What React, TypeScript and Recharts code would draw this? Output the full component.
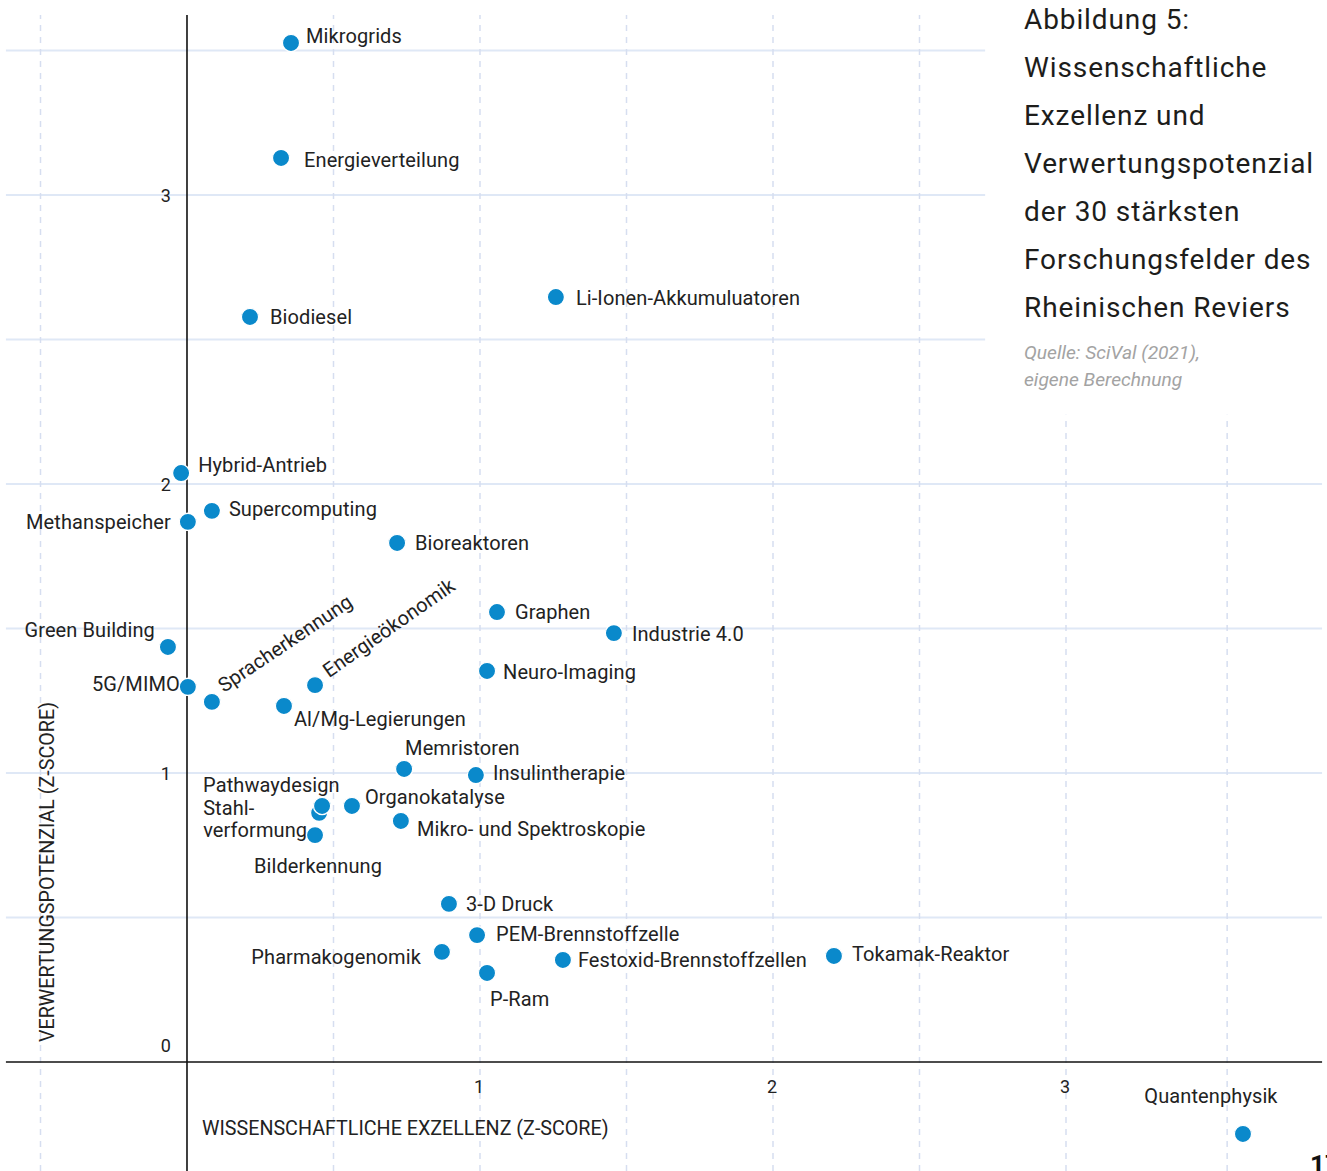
import { ScatterChart, Scatter, XAxis, YAxis, ReferenceLine } from 'recharts'

// research fields, in drawing order
const fields = [
  'Mikrogrids', 'Energieverteilung', 'Biodiesel', 'Li-Ionen-Akkumuluatoren', 'Hybrid-Antrieb',
  'Supercomputing', 'Methanspeicher', 'Bioreaktoren', 'Graphen', 'Industrie 4.0',
  'Green Building', 'Neuro-Imaging', '5G/MIMO', 'Spracherkennung', 'Energieökonomik',
  'Al/Mg-Legierungen', 'Memristoren', 'Insulintherapie', 'Stahlverformung', 'Pathwaydesign',
  'Organokatalyse', 'Bilderkennung', 'Mikro- und Spektroskopie', '3-D Druck', 'PEM-Brennstoffzelle',
  'Pharmakogenomik', 'Festoxid-Brennstoffzellen', 'P-Ram', 'Tokamak-Reaktor', 'Quantenphysik',
]
// wissenschaftliche Exzellenz (z-score)
const excellence = [
  0.355, 0.321, 0.215, 1.259, -0.02,
  0.085, 0.003, 0.717, 1.058, 1.457,
  -0.065, 1.024, 0.003, 0.085, 0.437,
  0.331, 0.741, 0.986, 0.451, 0.461,
  0.563, 0.437, 0.73, 0.894, 0.99,
  0.87, 1.283, 1.024, 2.208, 3.604,
]
// Verwertungspotenzial (z-score)
const potential = [
  3.526, 3.128, 2.578, 2.647, 2.038,
  1.907, 1.869, 1.796, 1.557, 1.484,
  1.436, 1.353, 1.298, 1.246, 1.304,
  1.232, 1.014, 0.993, 0.862, 0.886,
  0.886, 0.785, 0.834, 0.547, 0.439,
  0.381, 0.353, 0.308, 0.367, -0.249,
]

const xTicks = [1, 2, 3]
const yTicks = [0, 1, 2, 3]
const vGrid = [-0.5, 0.5, 1, 1.5, 2, 2.5, 3, 3.55]
const hGrid = [0.5, 1, 1.5, 2, 2.5, 3, 3.5]

const titleLines = [
  'Abbildung 5:', 'Wissenschaftliche', 'Exzellenz und', 'Verwertungspotenzial',
  'der 30 stärksten', 'Forschungsfelder des', 'Rheinischen Reviers',
]
const sourceLines = ['Quelle: SciVal (2021),', 'eigene Berechnung']

const X_DOMAIN = [-0.6382, 3.8908]
const Y_DOMAIN = [-0.3772, 3.6747]
const FONT = 'Roboto, sans-serif'

// where each label sits relative to its dot
type Place = { dx: number; dy: number; anchor?: 'start' | 'middle' | 'end'; rotate?: number; lines?: string[] }
const placement: Record<string, Place> = {
  'Mikrogrids': { dx: 15, dy: -7 },
  'Energieverteilung': { dx: 23, dy: 2 },
  'Biodiesel': { dx: 20, dy: 0 },
  'Li-Ionen-Akkumuluatoren': { dx: 20, dy: 1 },
  'Hybrid-Antrieb': { dx: 17, dy: -8 },
  'Supercomputing': { dx: 17, dy: -2 },
  'Methanspeicher': { dx: -17, dy: 0, anchor: 'end' },
  'Bioreaktoren': { dx: 18, dy: 0 },
  'Graphen': { dx: 18, dy: 0 },
  'Industrie 4.0': { dx: 18, dy: 1 },
  'Green Building': { dx: -13, dy: -17, anchor: 'end' },
  'Neuro-Imaging': { dx: 16, dy: 1 },
  '5G/MIMO': { dx: -8, dy: -3, anchor: 'end' },
  'Spracherkennung': { dx: 12, dy: -9, rotate: -34 },
  'Energieökonomik': { dx: 14, dy: -7, rotate: -35 },
  'Al/Mg-Legierungen': { dx: 10, dy: 13 },
  'Memristoren': { dx: 1, dy: -21 },
  'Insulintherapie': { dx: 17, dy: -2 },
  'Stahlverformung': { dx: -116, dy: -5, lines: ['Stahl-', 'verformung'] },
  'Pathwaydesign': { dx: -119, dy: -21 },
  'Organokatalyse': { dx: 13, dy: -9 },
  'Bilderkennung': { dx: 3, dy: 31, anchor: 'middle' },
  'Mikro- und Spektroskopie': { dx: 16, dy: 8 },
  '3-D Druck': { dx: 17, dy: 0 },
  'PEM-Brennstoffzelle': { dx: 19, dy: -1 },
  'Pharmakogenomik': { dx: -21, dy: 5, anchor: 'end' },
  'Festoxid-Brennstoffzellen': { dx: 15, dy: 0 },
  'P-Ram': { dx: 3, dy: 26 },
  'Tokamak-Reaktor': { dx: 18, dy: -2 },
  'Quantenphysik': { dx: -32, dy: -38, anchor: 'middle' },
}

const data = fields.map((name, i) => ({ name, x: excellence[i], y: potential[i] }))
const xTickData = xTicks.map((v) => ({ x: v, y: 0, label: String(v) }))
const yTickData = yTicks.map((v) => ({ x: 0, y: v, label: String(v) }))

const FieldDot = (props: any) => {
  const { cx, cy, payload } = props
  const p = placement[payload.name] || { dx: 16, dy: 0 }
  const tx = cx + p.dx
  const ty = cy + p.dy
  const common = { fontFamily: FONT, fontSize: 20, fill: '#222', letterSpacing: 0.1 }
  let label
  if (p.rotate) {
    label = (
      <text x={tx} y={ty} {...common} transform={`rotate(${p.rotate}, ${tx}, ${ty})`}>
        {payload.name}
      </text>
    )
  } else if (p.lines) {
    label = (
      <text {...common} textAnchor={p.anchor || 'start'} dominantBaseline="central">
        {p.lines.map((l, i) => (
          <tspan key={l} x={tx} y={ty + i * 22}>{l}</tspan>
        ))}
      </text>
    )
  } else {
    label = (
      <text x={tx} y={ty} {...common} textAnchor={p.anchor || 'start'} dominantBaseline="central">
        {payload.name}
      </text>
    )
  }
  return (
    <g>
      <circle cx={cx} cy={cy} r={8.6} fill="#0a89cb" stroke="#fff" strokeWidth={1.3} />
      {label}
    </g>
  )
}

const XTick = (props: any) => (
  <text x={props.cx - 1} y={props.cy + 25} textAnchor="middle" dominantBaseline="central"
    fontFamily={FONT} fontSize={18} fill="#222">{props.payload.label}</text>
)

const YTick = (props: any) => (
  <text x={props.cx - 16} y={props.payload.y === 0 ? props.cy - 16 : props.cy + 1} textAnchor="end"
    dominantBaseline="central" fontFamily={FONT} fontSize={18} fill="#222">{props.payload.label}</text>
)

export default function App() {
  return (
    <div style={{ position: 'absolute', left: 0, top: 0, width: 1327, height: 1171, overflow: 'hidden', background: '#fff' }}>
      <ScatterChart width={1327} height={1171} margin={{ top: 0, right: 0, bottom: 0, left: 0 }}>
        <XAxis type="number" dataKey="x" domain={X_DOMAIN} allowDataOverflow hide />
        <YAxis type="number" dataKey="y" domain={Y_DOMAIN} allowDataOverflow hide />
        {hGrid.map((v) => (
          <ReferenceLine key={`h${v}`} segment={[{ x: -0.618, y: v }, { x: v > 2 ? 2.724 : 3.874, y: v }]}
            stroke="#dfe8f6" strokeWidth={2} />
        ))}
        {vGrid.map((v) => (
          <ReferenceLine key={`v${v}`} segment={[{ x: v, y: -0.377 }, { x: v, y: v > 2.8 ? 2.24 : 3.623 }]}
            stroke="#d6def0" strokeWidth={1.5} strokeDasharray="6 6" />
        ))}
        <ReferenceLine segment={[{ x: -0.618, y: 0 }, { x: 3.874, y: 0 }]} stroke="#111" strokeWidth={1.6} />
        <ReferenceLine segment={[{ x: 0, y: -0.377 }, { x: 0, y: 3.623 }]} stroke="#111" strokeWidth={1.6} />
        <Scatter data={xTickData} shape={XTick} isAnimationActive={false} />
        <Scatter data={yTickData} shape={YTick} isAnimationActive={false} />
        <Scatter data={data} shape={FieldDot} isAnimationActive={false} />
      </ScatterChart>

      <div style={{ position: 'absolute', left: 202, top: 1117, fontFamily: FONT, fontSize: 19.7, color: '#222', whiteSpace: 'nowrap', lineHeight: '24px' }}>
        WISSENSCHAFTLICHE EXZELLENZ (Z-SCORE)
      </div>
      <div style={{ position: 'absolute', left: 48, top: 872, transform: 'translate(-50%, -50%) rotate(-90deg)', fontFamily: FONT, fontSize: 19.7, color: '#222', whiteSpace: 'nowrap', lineHeight: '24px' }}>
        VERWERTUNGSPOTENZIAL (Z-SCORE)
      </div>

      <div style={{ position: 'absolute', left: 1024, top: -4, fontFamily: FONT, fontSize: 28, lineHeight: '48px', color: '#1d1d1b', letterSpacing: 0.9, whiteSpace: 'nowrap' }}>
        {titleLines.map((l) => <div key={l}>{l}</div>)}
      </div>
      <div style={{ position: 'absolute', left: 1024, top: 339, fontFamily: FONT, fontSize: 19.2, lineHeight: '27px', color: '#a3a3a3', fontStyle: 'italic', whiteSpace: 'nowrap' }}>
        {sourceLines.map((l) => <div key={l}>{l}</div>)}
      </div>
      <div style={{ position: 'absolute', left: 1310, top: 1150, fontFamily: FONT, fontSize: 26, fontWeight: 700, color: '#111', lineHeight: '30px' }}>
        17
      </div>
    </div>
  )
}
